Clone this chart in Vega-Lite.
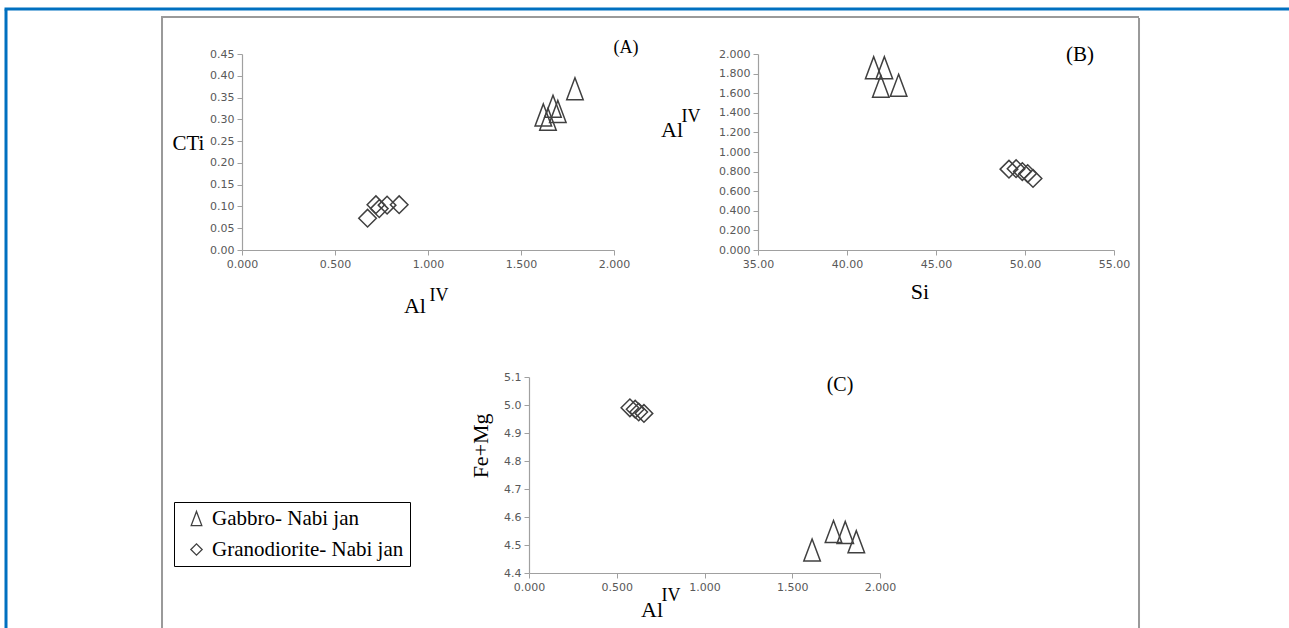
{
  "$schema": "https://vega.github.io/schema/vega-lite/v6.json",
  "background": "white",
  "padding": {"left": 4, "top": 7, "right": 0, "bottom": 0},
  "config": {
    "view": {"stroke": null},
    "axis": {"labelFont": "DejaVu Sans", "labelFontSize": 11, "labelColor": "#595959", "domainColor": "#a0a0a0", "tickColor": "#a0a0a0", "tickSize": 5, "grid": false, "labelFlush": false, "labelOverlap": false, "title": null, "domainWidth": 1.2, "labelPadding": 3},
    "text": {"font": "Liberation Serif", "color": "black", "align": "center", "baseline": "middle"},
    "legend": {"strokeColor": "black", "strokeWidth": 1, "padding": 6, "symbolOffset": 6, "labelFont": "Liberation Serif", "labelFontSize": 21, "labelColor": "black", "labelLimit": 400, "symbolSize": 200, "symbolStrokeColor": "#404040", "symbolFillColor": "transparent", "symbolStrokeWidth": 1.3, "rowPadding": 9, "labelOffset": 5, "fillColor": "white"}
  },
  "datasets": {
    "A": [
      {"AlIV": 1.620, "CTi": 0.310, "rock": "Gabbro- Nabi jan"},
      {"AlIV": 1.645, "CTi": 0.300, "rock": "Gabbro- Nabi jan"},
      {"AlIV": 1.672, "CTi": 0.330, "rock": "Gabbro- Nabi jan"},
      {"AlIV": 1.698, "CTi": 0.318, "rock": "Gabbro- Nabi jan"},
      {"AlIV": 1.790, "CTi": 0.370, "rock": "Gabbro- Nabi jan"},
      {"AlIV": 0.675, "CTi": 0.073, "rock": "Granodiorite- Nabi jan"},
      {"AlIV": 0.720, "CTi": 0.104, "rock": "Granodiorite- Nabi jan"},
      {"AlIV": 0.738, "CTi": 0.095, "rock": "Granodiorite- Nabi jan"},
      {"AlIV": 0.780, "CTi": 0.103, "rock": "Granodiorite- Nabi jan"},
      {"AlIV": 0.845, "CTi": 0.104, "rock": "Granodiorite- Nabi jan"}
    ],
    "B": [
      {"Si": 41.5, "AlIV": 1.86, "rock": "Gabbro- Nabi jan"},
      {"Si": 42.1, "AlIV": 1.86, "rock": "Gabbro- Nabi jan"},
      {"Si": 41.9, "AlIV": 1.67, "rock": "Gabbro- Nabi jan"},
      {"Si": 42.9, "AlIV": 1.68, "rock": "Gabbro- Nabi jan"},
      {"Si": 49.1, "AlIV": 0.825, "rock": "Granodiorite- Nabi jan"},
      {"Si": 49.5, "AlIV": 0.83, "rock": "Granodiorite- Nabi jan"},
      {"Si": 49.85, "AlIV": 0.80, "rock": "Granodiorite- Nabi jan"},
      {"Si": 50.15, "AlIV": 0.78, "rock": "Granodiorite- Nabi jan"},
      {"Si": 50.45, "AlIV": 0.73, "rock": "Granodiorite- Nabi jan"}
    ],
    "C": [
      {"AlIV": 1.613, "FeMg": 4.482, "rock": "Gabbro- Nabi jan"},
      {"AlIV": 1.735, "FeMg": 4.548, "rock": "Gabbro- Nabi jan"},
      {"AlIV": 1.802, "FeMg": 4.545, "rock": "Gabbro- Nabi jan"},
      {"AlIV": 1.865, "FeMg": 4.512, "rock": "Gabbro- Nabi jan"},
      {"AlIV": 0.575, "FeMg": 4.990, "rock": "Granodiorite- Nabi jan"},
      {"AlIV": 0.605, "FeMg": 4.985, "rock": "Granodiorite- Nabi jan"},
      {"AlIV": 0.625, "FeMg": 4.975, "rock": "Granodiorite- Nabi jan"},
      {"AlIV": 0.655, "FeMg": 4.970, "rock": "Granodiorite- Nabi jan"}
    ]
  },
  "spacing": -3,
  "vconcat": [
    {"width": 1290, "height": 0.01, "data": {"values": []}, "mark": {"type": "point", "opacity": 0}, "view": {"stroke": "#0070c0", "strokeWidth": 3}},
    {
      "spacing": 153,
      "hconcat": [
        {"width": 0.01, "height": 640, "data": {"values": []}, "mark": {"type": "point", "opacity": 0}, "view": {"stroke": "#0070c0", "strokeWidth": 3}},
        {
          "spacing": 4,
          "vconcat": [
            {"width": 0.01, "height": 0.01, "data": {"values": []}, "mark": {"type": "point", "opacity": 0}},
            {
              "spacing": -2,
              "vconcat": [
                {"width": 976, "height": 0.01, "data": {"values": []}, "mark": {"type": "point", "opacity": 0}, "view": {"stroke": "#9a9a9a", "strokeWidth": 2}},
                {
                  "spacing": 8,
                  "hconcat": [
                    {"width": 0.01, "height": 630, "data": {"values": []}, "mark": {"type": "point", "opacity": 0}, "view": {"stroke": "#9a9a9a", "strokeWidth": 2}},
                    {
                      "spacing": 18,
                      "vconcat": [
                        {"width": 0.01, "height": 0.01, "data": {"values": []}, "mark": {"type": "point", "opacity": 0}},
                        {
                          "spacing": 53,
                          "vconcat": [
                            {
                              "hconcat": [
                                {
                                  "width": 372, "height": 196,
                                  "layer": [
                                    {
                                      "data": {"name": "A"},
                                      "mark": {"type": "point", "filled": false, "stroke": "#404040", "strokeWidth": 1.5, "opacity": 1, "size": 484},
                                      "encoding": {
                                        "x": {"field": "AlIV", "type": "quantitative", "scale": {"domain": [0, 2], "nice": false, "zero": false}, "axis": {"values": [0, 0.5, 1, 1.5, 2], "format": ".3f", "labelOverlap": false}},
                                        "y": {"field": "CTi", "type": "quantitative", "scale": {"domain": [0, 0.45], "nice": false, "zero": false}, "axis": {"values": [0, 0.05, 0.1, 0.15, 0.2, 0.25, 0.3, 0.35, 0.4, 0.45], "format": ".2f", "labelOverlap": false}},
                                        "shape": {"field": "rock", "type": "nominal", "scale": {"domain": ["Gabbro- Nabi jan", "Granodiorite- Nabi jan"], "range": ["M0,-1L0.75,1L-0.75,1Z", "M-0.8,0L0,-0.8L0.8,0L0,0.8Z"]}, "legend": {"title": null, "orient": "none", "legendX": 168, "legendY": 493}}
                                      }
                                    },
                                    {"data": {"values": [{}]}, "mark": {"type": "text", "text": "CTi", "fontSize": 21}, "encoding": {"x": {"datum": -0.288, "type": "quantitative", "axis": {"values": [0, 0.5, 1, 1.5, 2], "format": ".3f", "labelOverlap": false}}, "y": {"datum": 0.243, "type": "quantitative", "axis": {"values": [0, 0.05, 0.1, 0.15, 0.2, 0.25, 0.3, 0.35, 0.4, 0.45], "format": ".2f", "labelOverlap": false}}}},
                                    {"data": {"values": [{}]}, "mark": {"type": "text", "text": "(A)", "fontSize": 18}, "encoding": {"x": {"datum": 2.065, "type": "quantitative", "axis": {"values": [0, 0.5, 1, 1.5, 2], "format": ".3f", "labelOverlap": false}}, "y": {"datum": 0.464, "type": "quantitative", "axis": {"values": [0, 0.05, 0.1, 0.15, 0.2, 0.25, 0.3, 0.35, 0.4, 0.45], "format": ".2f", "labelOverlap": false}}}},
                                    {"data": {"values": [{}]}, "mark": {"type": "text", "text": "Al", "fontSize": 22}, "encoding": {"x": {"datum": 0.93, "type": "quantitative", "axis": {"values": [0, 0.5, 1, 1.5, 2], "format": ".3f", "labelOverlap": false}}, "y": {"datum": -0.129, "type": "quantitative", "axis": {"values": [0, 0.05, 0.1, 0.15, 0.2, 0.25, 0.3, 0.35, 0.4, 0.45], "format": ".2f", "labelOverlap": false}}}},
                                    {"data": {"values": [{}]}, "mark": {"type": "text", "text": "IV", "fontSize": 18}, "encoding": {"x": {"datum": 1.059, "type": "quantitative", "axis": {"values": [0, 0.5, 1, 1.5, 2], "format": ".3f", "labelOverlap": false}}, "y": {"datum": -0.106, "type": "quantitative", "axis": {"values": [0, 0.05, 0.1, 0.15, 0.2, 0.25, 0.3, 0.35, 0.4, 0.45], "format": ".2f", "labelOverlap": false}}}}
                                  ]
                                },
                                {
                                  "width": 356, "height": 196,
                                  "layer": [
                                    {
                                      "data": {"name": "B"},
                                      "mark": {"type": "point", "filled": false, "stroke": "#404040", "strokeWidth": 1.5, "opacity": 1, "size": 484},
                                      "encoding": {
                                        "x": {"field": "Si", "type": "quantitative", "scale": {"domain": [35, 55], "nice": false, "zero": false}, "axis": {"values": [35, 40, 45, 50, 55], "format": ".2f", "labelOverlap": false}},
                                        "y": {"field": "AlIV", "type": "quantitative", "scale": {"domain": [0, 2], "nice": false, "zero": false}, "axis": {"values": [0, 0.2, 0.4, 0.6, 0.8, 1, 1.2, 1.4, 1.6, 1.8, 2], "format": ".3f", "labelOverlap": false}},
                                        "shape": {"field": "rock", "type": "nominal", "scale": {"domain": ["Gabbro- Nabi jan", "Granodiorite- Nabi jan"], "range": ["M0,-1L0.75,1L-0.75,1Z", "M-0.8,0L0,-0.8L0.8,0L0,0.8Z"]}, "legend": {"title": null, "orient": "none", "legendX": 168, "legendY": 493}}
                                      }
                                    },
                                    {"data": {"values": [{}]}, "mark": {"type": "text", "text": "Al", "fontSize": 22}, "encoding": {"x": {"datum": 30.17, "type": "quantitative", "axis": {"values": [35, 40, 45, 50, 55], "format": ".2f", "labelOverlap": false}}, "y": {"datum": 1.224, "type": "quantitative", "axis": {"values": [0, 0.2, 0.4, 0.6, 0.8, 1, 1.2, 1.4, 1.6, 1.8, 2], "format": ".3f", "labelOverlap": false}}}},
                                    {"data": {"values": [{}]}, "mark": {"type": "text", "text": "IV", "fontSize": 18}, "encoding": {"x": {"datum": 31.24, "type": "quantitative", "axis": {"values": [35, 40, 45, 50, 55], "format": ".2f", "labelOverlap": false}}, "y": {"datum": 1.357, "type": "quantitative", "axis": {"values": [0, 0.2, 0.4, 0.6, 0.8, 1, 1.2, 1.4, 1.6, 1.8, 2], "format": ".3f", "labelOverlap": false}}}},
                                    {"data": {"values": [{}]}, "mark": {"type": "text", "text": "Si", "fontSize": 22}, "encoding": {"x": {"datum": 44.1, "type": "quantitative", "axis": {"values": [35, 40, 45, 50, 55], "format": ".2f", "labelOverlap": false}}, "y": {"datum": -0.429, "type": "quantitative", "axis": {"values": [0, 0.2, 0.4, 0.6, 0.8, 1, 1.2, 1.4, 1.6, 1.8, 2], "format": ".3f", "labelOverlap": false}}}},
                                    {"data": {"values": [{}]}, "mark": {"type": "text", "text": "(B)", "fontSize": 21}, "encoding": {"x": {"datum": 53.09, "type": "quantitative", "axis": {"values": [35, 40, 45, 50, 55], "format": ".2f", "labelOverlap": false}}, "y": {"datum": 1.99, "type": "quantitative", "axis": {"values": [0, 0.2, 0.4, 0.6, 0.8, 1, 1.2, 1.4, 1.6, 1.8, 2], "format": ".3f", "labelOverlap": false}}}}
                                  ]
                                }
                              ],
                              "spacing": 144,
                              "bounds": "flush"
                            },
                            {
                              "hconcat": [
                                {"width": 207, "height": 10, "data": {"values": []}, "mark": {"type": "point", "opacity": 0}},
                                {
                                  "width": 351, "height": 196,
                                  "layer": [
                                    {
                                      "data": {"name": "C"},
                                      "mark": {"type": "point", "filled": false, "stroke": "#404040", "strokeWidth": 1.5, "opacity": 1, "size": 484},
                                      "encoding": {
                                        "x": {"field": "AlIV", "type": "quantitative", "scale": {"domain": [0, 2], "nice": false, "zero": false}, "axis": {"values": [0, 0.5, 1, 1.5, 2], "format": ".3f", "labelOverlap": false}},
                                        "y": {"field": "FeMg", "type": "quantitative", "scale": {"domain": [4.4, 5.1], "nice": false, "zero": false}, "axis": {"values": [4.4, 4.5, 4.6, 4.7, 4.8, 4.9, 5.0, 5.1], "format": ".1f", "labelOverlap": false}},
                                        "shape": {"field": "rock", "type": "nominal", "scale": {"domain": ["Gabbro- Nabi jan", "Granodiorite- Nabi jan"], "range": ["M0,-1L0.75,1L-0.75,1Z", "M-0.8,0L0,-0.8L0.8,0L0,0.8Z"]}, "legend": {"title": null, "orient": "none", "legendX": 168, "legendY": 493}}
                                      }
                                    },
                                    {"data": {"values": [{}]}, "mark": {"type": "text", "text": "Fe+Mg", "fontSize": 22, "angle": 270}, "encoding": {"x": {"datum": -0.274, "type": "quantitative", "axis": {"values": [0, 0.5, 1, 1.5, 2], "format": ".3f", "labelOverlap": false}}, "y": {"datum": 4.854, "type": "quantitative", "axis": {"values": [4.4, 4.5, 4.6, 4.7, 4.8, 4.9, 5.0, 5.1], "format": ".1f", "labelOverlap": false}}}},
                                    {"data": {"values": [{}]}, "mark": {"type": "text", "text": "Al", "fontSize": 22}, "encoding": {"x": {"datum": 0.701, "type": "quantitative", "axis": {"values": [0, 0.5, 1, 1.5, 2], "format": ".3f", "labelOverlap": false}}, "y": {"datum": 4.268, "type": "quantitative", "axis": {"values": [4.4, 4.5, 4.6, 4.7, 4.8, 4.9, 5.0, 5.1], "format": ".1f", "labelOverlap": false}}}},
                                    {"data": {"values": [{}]}, "mark": {"type": "text", "text": "IV", "fontSize": 18}, "encoding": {"x": {"datum": 0.809, "type": "quantitative", "axis": {"values": [0, 0.5, 1, 1.5, 2], "format": ".3f", "labelOverlap": false}}, "y": {"datum": 4.318, "type": "quantitative", "axis": {"values": [4.4, 4.5, 4.6, 4.7, 4.8, 4.9, 5.0, 5.1], "format": ".1f", "labelOverlap": false}}}},
                                    {"data": {"values": [{}]}, "mark": {"type": "text", "text": "(C)", "fontSize": 20}, "encoding": {"x": {"datum": 1.772, "type": "quantitative", "axis": {"values": [0, 0.5, 1, 1.5, 2], "format": ".3f", "labelOverlap": false}}, "y": {"datum": 5.071, "type": "quantitative", "axis": {"values": [4.4, 4.5, 4.6, 4.7, 4.8, 4.9, 5.0, 5.1], "format": ".1f", "labelOverlap": false}}}}
                                  ]
                                }
                              ],
                              "spacing": 20
                            }
                          ]
                        }
                      ]
                    },
                    {"width": 0.01, "height": 630, "data": {"values": []}, "mark": {"type": "point", "opacity": 0}, "view": {"stroke": "#9a9a9a", "strokeWidth": 2}}
                  ]
                }
              ]
            }
          ]
        }
      ]
    }
  ]
}
